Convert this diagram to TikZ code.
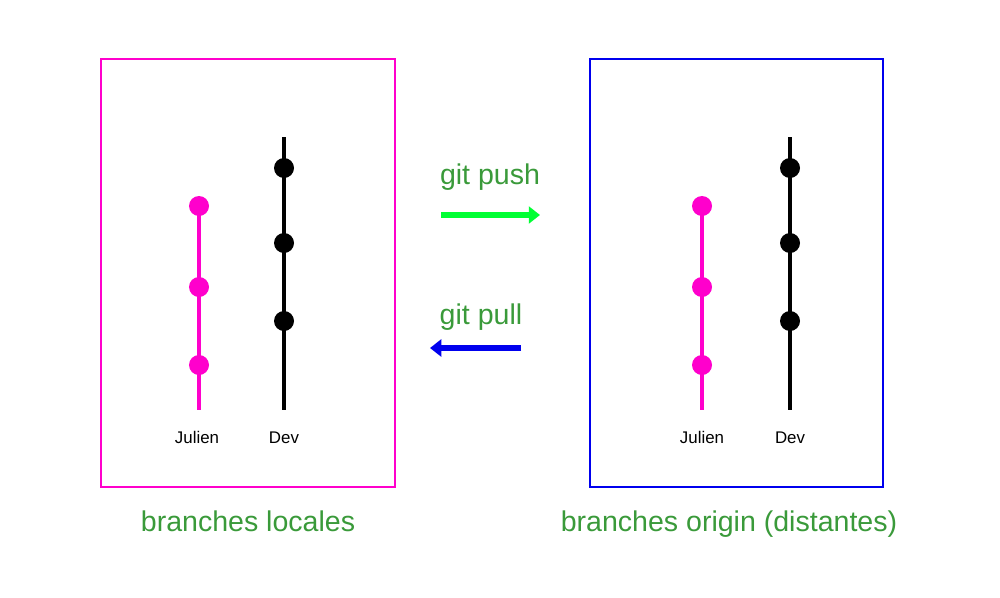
\documentclass[tikz,border=0pt]{standalone}
\usepackage{fontspec}
\setmainfont{Liberation Sans}
\usepackage{tikz}
\usetikzlibrary{arrows.meta}
\usepackage{xcolor}
\definecolor{pinkgit}{HTML}{FF00CC}
\definecolor{bluegit}{HTML}{0000EE}
\definecolor{greentext}{HTML}{3A9A3A}
\definecolor{greenarrow}{HTML}{00FF33}

\begin{document}
\begin{tikzpicture}[x=0.025cm,y=-0.025cm]
          \useasboundingbox (0,0) rectangle (1000,598);
          % boxes
          \draw[pinkgit,line width=1.4pt] (101,59) rectangle (395,487);
          \draw[bluegit,line width=1.4pt] (590,59) rectangle (883,487);
          % branch lines
          \begin{scope}[every path/.style={line width=3.5pt}]
            \coordinate (jltop) at (199,198);
            \coordinate (jlbot) at (199,410);
            \coordinate (dltop) at (284,137);
            \coordinate (dlbot) at (284,410);
            \coordinate (jrtop) at (702,198);
            \coordinate (jrbot) at (702,410);
            \coordinate (drtop) at (790,137);
            \coordinate (drbot) at (790,410);
            \draw[pinkgit] (jltop) -- (jlbot);
            \draw (dltop) -- (dlbot);
            \draw[pinkgit] (jrtop) -- (jrbot);
            \draw (drtop) -- (drbot);
          \end{scope}
          % commits
          \begin{scope}[every node/.style={circle,inner sep=0pt,minimum size=0.5cm}]
            \node[fill=pinkgit] (jl1) at (199,206) {};
            \node[fill=pinkgit] (jl2) at (199,287) {};
            \node[fill=pinkgit] (jl3) at (199,365) {};
            \node[fill=black] (dl1) at (284,168) {};
            \node[fill=black] (dl2) at (284,243) {};
            \node[fill=black] (dl3) at (284,321) {};
            \node[fill=pinkgit] (jr1) at (702,206) {};
            \node[fill=pinkgit] (jr2) at (702,287) {};
            \node[fill=pinkgit] (jr3) at (702,365) {};
            \node[fill=black] (dr1) at (790,168) {};
            \node[fill=black] (dr2) at (790,243) {};
            \node[fill=black] (dr3) at (790,321) {};
          \end{scope}
          % labels
          \begin{scope}[every node/.style={anchor=base,font=\fontsize{12}{14}\selectfont}]
            \node (jlname) at (197,443) {Julien};
            \node (dlname) at (284,443) {Dev};
            \node (jrname) at (702,443) {Julien};
            \node (drname) at (790,443) {Dev};
          \end{scope}
          \begin{scope}[every node/.style={anchor=base,text=greentext,font=\fontsize{20.3}{24}\selectfont}]
            \node (push) at (490,184) {git push};
            \node (pull) at (481,324) {git pull};
            \node (local) at (248,531) {branches locales};
            \node (origin) at (729,531) {branches origin (distantes)};
          \end{scope}
          % arrows
          \coordinate (pushstart) at (441,215);
          \coordinate (pushend) at (540,215);
          \coordinate (pullstart) at (521,348);
          \coordinate (pullend) at (430,348);
          \begin{scope}[every path/.style={line width=4.2pt,-{Triangle[length=8pt,width=12pt]}}]
            \draw[greenarrow] (pushstart) -- (pushend);
            \draw[bluegit] (pullstart) -- (pullend);
          \end{scope}
        \end{tikzpicture}
\end{document}
